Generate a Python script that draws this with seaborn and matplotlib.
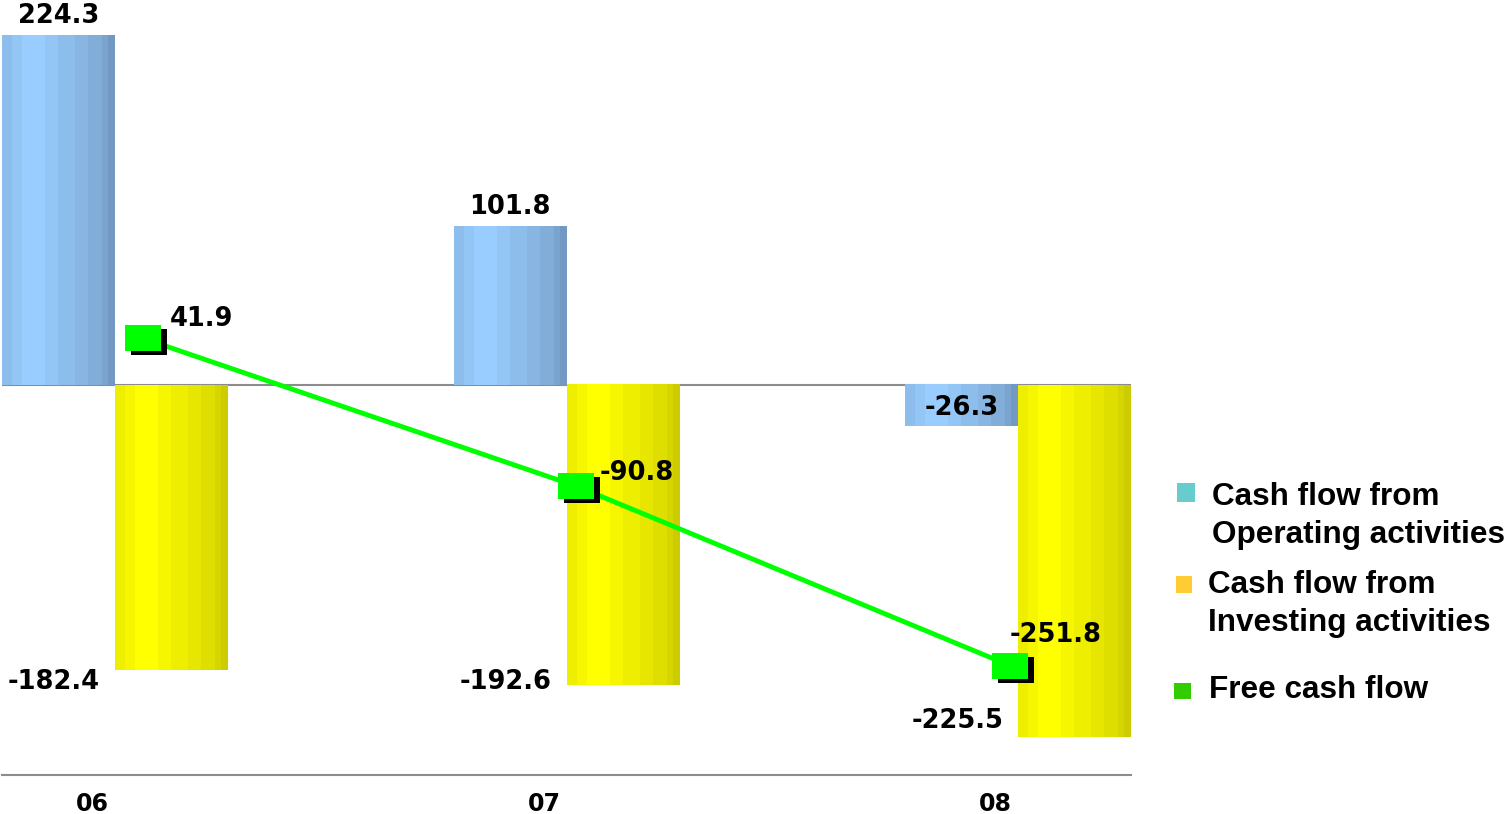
import numpy as np
import pandas as pd
import seaborn as sns
import matplotlib.pyplot as plt
import matplotlib.transforms as mtransforms
from matplotlib.patches import Rectangle
from matplotlib.colors import to_rgb

# ---- data ----
years = ["06", "07", "08"]
operating = [224.3, 101.8, -26.3]
investing = [-182.4, -192.6, -225.5]
free_cash_flow = [41.9, -90.8, -251.8]

legend_labels = [
    ["Cash flow from", "Operating activities"],
    ["Cash flow from", "Investing activities"],
    ["Free cash flow"],
]

# ---- style ----
sns.set_theme(style="white")
plt.rcParams["font.family"] = ["DejaVu Sans"]

W, H = 1509, 814
fig = plt.figure(figsize=(W / 100, H / 100), dpi=100)
rect_axes = [2 / W, 39 / H, 1129 / W, 780 / H]
ax = fig.add_axes(rect_axes)

df = pd.DataFrame({
    "year": years * 2,
    "series": ["Operating"] * 3 + ["Investing"] * 3,
    "value": operating + investing,
})

sns.barplot(data=df, x="year", y="value", hue="series",
            hue_order=["Operating", "Investing"],
            palette=["#99CCFF", "#FFFF00"], saturation=1,
            width=0.5, errorbar=None, legend=False, linewidth=0, ax=ax)

# striped cylinder-like shading across each bar
stripe_w = [3, 3, 7, 4, 5, 4, 4, 2, 2]
blue_cols = ["#8DBDED", "#93C5F5", "#99CCFF", "#93C5F5", "#8DBDEB",
             "#88B5E2", "#82ADD8", "#7AA3CE", "#7398C3"]
yellow_cols = ["#EEEE00", "#F6F600", "#FFFF00", "#F6F600", "#EEEE00",
               "#E6E600", "#DEDE00", "#D5D500", "#CCCC00"]


def stripes(cols):
    row = []
    for c, n in zip(cols, stripe_w):
        row += [to_rgb(c)] * n
    return np.array([row])


blue_img = stripes(blue_cols)
yellow_img = stripes(yellow_cols)

for p in list(ax.patches):
    x0, y0 = p.get_x(), p.get_y()
    w, h = p.get_width(), p.get_height()
    fc = p.get_facecolor()
    img = blue_img if fc[2] > fc[0] else yellow_img
    ax.imshow(img, extent=[x0, x0 + w, min(y0, y0 + h), max(y0, y0 + h)],
              aspect="auto", interpolation="nearest", zorder=2)
    p.set_visible(False)

ax.set_xlim(-0.25, 2.25)
ax.set_ylim(-250, 250)
ax.axhline(0, color="#8C8C8C", lw=1.5, zorder=1)

for s in ["top", "left", "right"]:
    ax.spines[s].set_visible(False)
ax.spines["bottom"].set_color("#8C8C8C")
ax.spines["bottom"].set_linewidth(1.5)
ax.set_yticks([])
ax.set_xticks(np.arange(len(years)) - 0.05)
ax.set_xticklabels(years, fontsize=17, fontweight="bold", color="black")
ax.tick_params(axis="x", length=0, pad=12)
ax.set_xlabel("")
ax.set_ylabel("")

label_kw = dict(fontsize=18.5, fontweight="bold", color="black",
                textcoords="offset pixels")

# operating labels
for i, v in enumerate(operating):
    xc = i - 0.125
    if v >= 0:
        ax.annotate(f"{v:.1f}", xy=(xc, v), xytext=(0, 19),
                    ha="center", va="center", zorder=5, **label_kw)
    else:
        ax.annotate(f"{v:.1f}", xy=(xc, v / 2), xytext=(0, -2),
                    ha="center", va="center", zorder=5, **label_kw)

# investing labels, set beside the bar end
investing_shift = [-12, 3, 16]
for i, (v, dy) in enumerate(zip(investing, investing_shift)):
    ax.annotate(f"{v:.1f}", xy=(i - 0.135, v), xytext=(0, dy),
                ha="center", va="center", zorder=5, **label_kw)

# ---- free cash flow on its own overlaid scale ----
ax2 = fig.add_axes(rect_axes, frameon=False)
xs = np.arange(len(years))
sns.lineplot(x=xs, y=free_cash_flow, ax=ax2, color="#00FF00", lw=3.5,
             legend=False, zorder=3)

rect = [(-1, -0.72), (1, -0.72), (1, 0.72), (-1, 0.72), (-1, -0.72)]
shadow_tr = mtransforms.offset_copy(ax2.transData, fig=fig, x=6, y=-4, units="dots")
ax2.plot(xs, free_cash_flow, ls="none", marker=rect, ms=25.9, mew=0,
         color="black", transform=shadow_tr, zorder=4)
ax2.plot(xs, free_cash_flow, ls="none", marker=rect, ms=25.9, mew=0,
         color="#00FF00", zorder=5)

label_shift = [(27, 19), (23, 13), (0, 31)]
for x, v, (dx, dy) in zip(xs, free_cash_flow, label_shift):
    ax2.annotate(f"{v:.1f}", xy=(x, v), xytext=(dx, dy),
                 ha="left", va="center", zorder=6, **label_kw)

ax2.set_ylim(-350, 350)
ax2.set_xlim(-0.325, 2.279)
ax2.set_xticks([])
ax2.set_yticks([])
ax2.set_xlabel("")
ax2.set_ylabel("")

# ---- legend ----
leg_font = dict(family=["Liberation Sans", "DejaVu Sans"], fontsize=22.7,
                fontweight="bold", color="black", va="baseline", ha="left")
legend_items = [
    ("#66CCCC", (1177, 483, 18, 19), 1212, [505, 543]),
    ("#FFCC33", (1176, 576, 16, 17), 1208, [593, 631]),
    ("#33CC00", (1174, 683, 17, 16), 1209, [698]),
]
for (col, (rx, ry, rw, rh), tx, baselines), lines in zip(legend_items, legend_labels):
    fig.add_artist(Rectangle((rx / W, 1 - (ry + rh) / H), rw / W, rh / H,
                             transform=fig.transFigure, facecolor=col,
                             edgecolor="none"))
    for txt, by in zip(lines, baselines):
        fig.text(tx / W, 1 - by / H, txt, **leg_font)

fig.savefig("out.png", dpi=100)
